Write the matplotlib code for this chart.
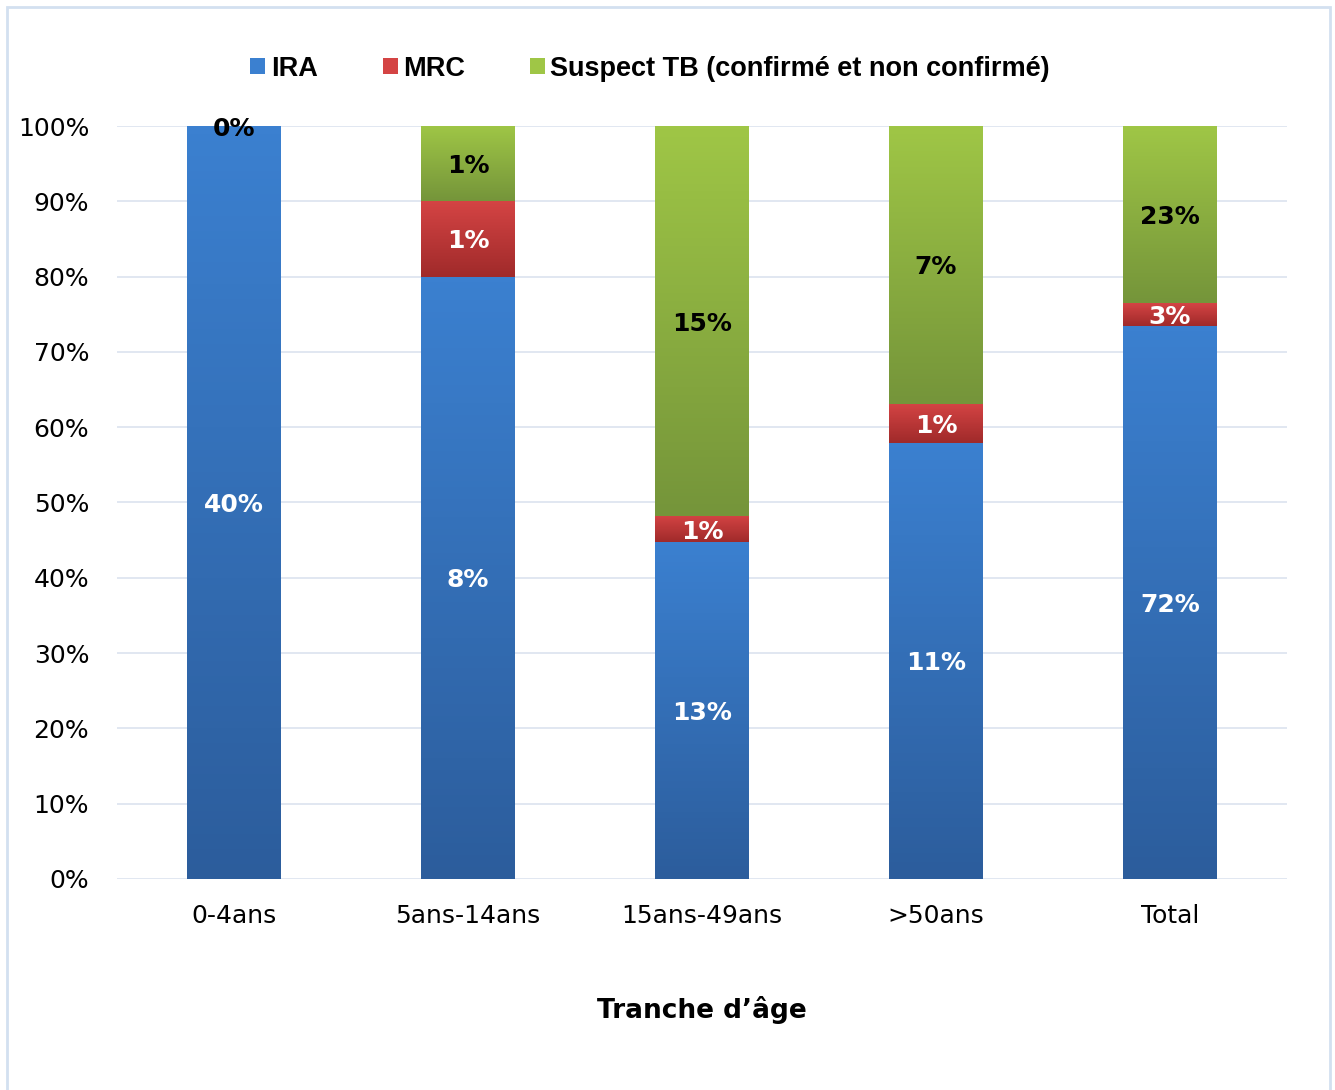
import matplotlib.pyplot as plt
import numpy as np
from matplotlib.patches import Rectangle
from matplotlib.colors import LinearSegmentedColormap

plt.rcParams['font.family'] = ['DejaVu Sans']

categories = ["0-4ans", "5ans-14ans", "15ans-49ans", ">50ans", "Total"]
series = ["IRA", "MRC", "Suspect TB (confirmé et non confirmé)"]
# share of each bar (percent of the 100% stack)
ira = [100.0, 80.0, 44.7, 57.9, 73.5]
mrc = [0.0, 10.0, 3.5, 5.2, 3.0]
tb = [0.0, 10.0, 51.8, 36.9, 23.5]
# printed labels (percent of total)
ira_lbl = ["40%", "8%", "13%", "11%", "72%"]
mrc_lbl = ["", "1%", "1%", "1%", "3%"]
tb_lbl = ["0%", "1%", "15%", "7%", "23%"]

grads = [("#2c5d9c", "#3b80d0"), ("#a02a2a", "#d44444"), ("#75953a", "#9fc646")]

fig = plt.figure(figsize=(13.35, 10.9), dpi=100)
ax = fig.add_axes([0.0876, 0.1936, 0.8764, 0.6908])

x = np.arange(len(categories))
bottom = np.zeros(len(categories))
for vals, (c0, c1), name in zip([ira, mrc, tb], grads, series):
    bars = ax.bar(x, vals, 0.40, bottom=bottom, color=c1, label=name, zorder=2)
    cmap = LinearSegmentedColormap.from_list("g", [c0, c1])
    for p in bars:
        if p.get_height() <= 0:
            continue
        x0, y0 = p.get_x(), p.get_y()
        w, h = p.get_width(), p.get_height()
        im = ax.imshow(np.linspace(0, 1, 100).reshape(-1, 1), cmap=cmap, origin="lower",
                       extent=[x0, x0 + w, y0, y0 + h], aspect="auto", zorder=3)
        im.set_clip_path(p)
    bottom += np.array(vals)

# value labels
base = np.zeros(len(categories))
for vals, lbls, col in [(ira, ira_lbl, "white"), (mrc, mrc_lbl, "white"), (tb, tb_lbl, "black")]:
    for i, (v, l) in enumerate(zip(vals, lbls)):
        if l:
            ax.text(x[i], base[i] + v / 2, l, ha="center", va="center_baseline", fontsize=18,
                    fontweight="bold", color=col, zorder=5)
    base += np.array(vals)

ax.set_xlim(-0.5, 4.5)
ax.set_ylim(0, 100)
ax.set_yticks(range(0, 101, 10))
ax.set_yticklabels([f"{v}%" for v in range(0, 101, 10)], fontsize=18)
ax.set_xticks(x)
ax.set_xticklabels(categories, fontsize=18)
ax.tick_params(length=0)
ax.tick_params(axis="x", pad=18)
ax.tick_params(axis="y", pad=20)
ax.grid(axis="y", color="#dbe3ef", lw=1.2, zorder=0)
ax.set_axisbelow(True)
for s in ax.spines.values():
    s.set_visible(False)

ax.set_xlabel("Tranche d’âge", fontsize=19, fontweight="bold", labelpad=49)

leg = fig.legend(*ax.get_legend_handles_labels(), loc="center", bbox_to_anchor=(0.487, 0.937),
                 ncol=3, frameon=False,
                 prop={"family": "Liberation Sans", "size": 19.5, "weight": "bold"},
                 handlelength=0.55, handleheight=0.55, handletextpad=0.2, columnspacing=2.4)

fig.patches.append(Rectangle((7 / 1335, -0.01), 1323 / 1335, 1 - 7 / 1090 + 0.01,
                             transform=fig.transFigure, fill=False, edgecolor="#d3e0f0", lw=2))

fig.savefig("out.png", dpi=100)
